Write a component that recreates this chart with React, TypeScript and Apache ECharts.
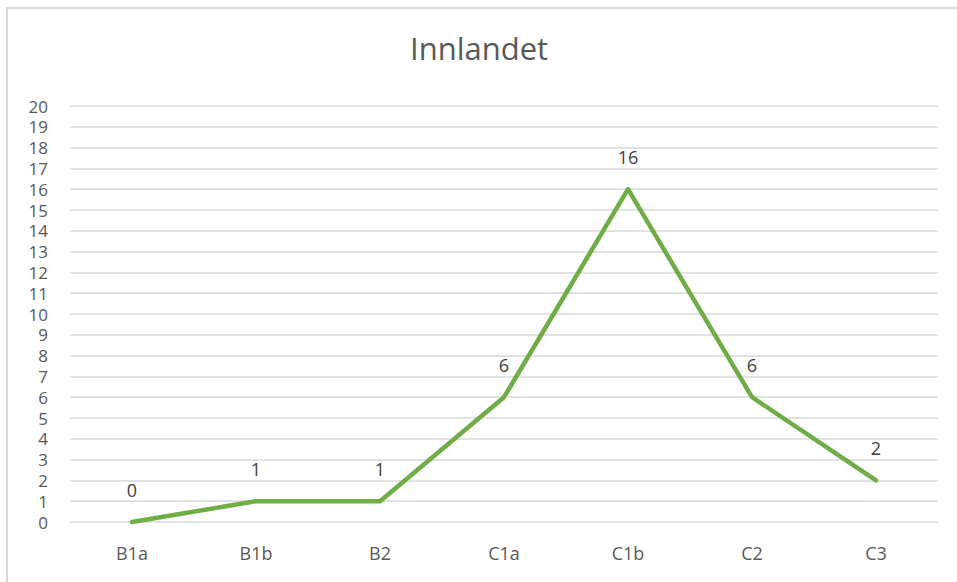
import React, { useEffect, useRef } from "react";
import * as echarts from "echarts";

const categories = ["B1a", "B1b", "B2", "C1a", "C1b", "C2", "C3"];
const values = [0, 1, 1, 6, 16, 6, 2];
const titleText = "Innlandet";

export default function App() {
  const ref = useRef<HTMLDivElement>(null);
  useEffect(() => {
    const chart = echarts.init(ref.current!, undefined, { renderer: "svg" });
    chart.setOption({
      animation: false,
      backgroundColor: "#ffffff",
      title: {
        text: titleText,
        left: 410,
        top: 32,
        padding: 0,
        textStyle: { fontFamily: "Open Sans", fontSize: 31, fontWeight: "normal", color: "#595959" },
      },
      graphic: [
        {
          type: "rect",
          shape: { x: 7, y: 8, width: 1000, height: 700 },
          style: { fill: "none", stroke: "#d9d9d9", lineWidth: 2 },
          silent: true,
        },
      ],
      grid: { left: 70, right: 19, top: 106, bottom: 60, containLabel: false },
      xAxis: {
        type: "category",
        data: categories,
        boundaryGap: true,
        axisLine: { show: false },
        axisTick: { show: false },
        axisLabel: { color: "#595959", fontFamily: "Open Sans", fontSize: 18, margin: 22 },
      },
      yAxis: {
        type: "value",
        min: 0,
        max: 20,
        interval: 1,
        axisLine: { show: false },
        axisTick: { show: false },
        splitLine: { lineStyle: { color: "#d9d9d9", width: 1.5 } },
        axisLabel: {
          color: "#595959",
          fontFamily: "Open Sans",
          fontSize: 17,
          lineHeight: 18,
          margin: 22,
        },
      },
      series: [
        {
          type: "line",
          data: values,
          showSymbol: true,
          symbol: "circle",
          symbolSize: 1,
          lineStyle: { color: "#70ad47", width: 4.5, cap: "round", join: "round" },
          itemStyle: { color: "#70ad47" },
          label: {
            show: true,
            position: "top",
            distance: 23,
            color: "#404040",
            fontFamily: "Open Sans",
            fontSize: 18,
          },
        },
      ],
    });
    return () => chart.dispose();
  }, []);
  return (
    <div
      ref={ref}
      style={{ position: "fixed", left: 0, top: 0, width: 957, height: 582 }}
    />
  );
}
